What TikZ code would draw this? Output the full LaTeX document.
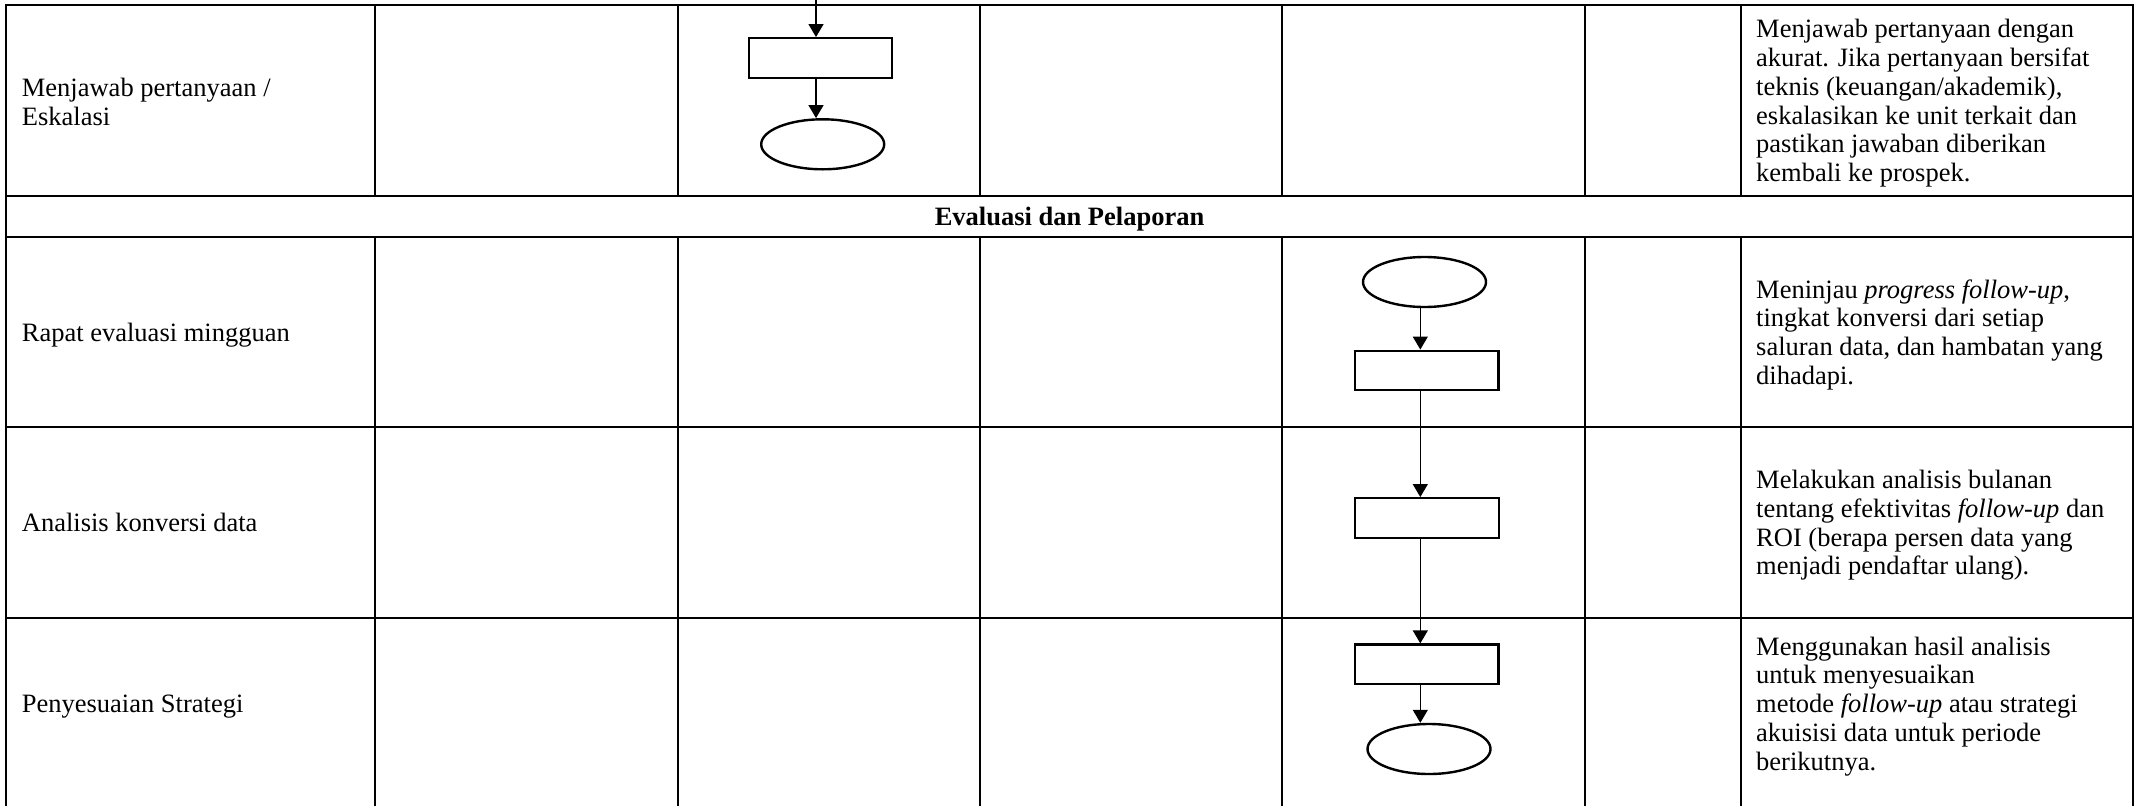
\documentclass[tikz,border=0pt]{standalone}
\usepackage{fontspec}
\setmainfont{Liberation Serif}
\usetikzlibrary{arrows.meta,shapes.geometric}
\newcommand{\cellfont}{\fontsize{26.5}{28.7}\selectfont}
\newcommand{\tstrut}{\rule{0pt}{23.6pt}}
\begin{document}
\begin{tikzpicture}[x=1pt,y=-1pt,
  gridline/.style={line width=2pt},
  proc/.style={draw, line width=2.4pt, minimum width=143.5pt, minimum height=39.5pt, inner sep=0pt},
  term/.style={draw, ellipse, line width=2.4pt, minimum width=123pt, minimum height=50pt, inner sep=0pt},
  arr/.style={line width=1.3pt, -{Triangle[length=13pt,width=15pt]}},
  txt/.style={anchor=north west, inner sep=0pt, align=left, font=\cellfont},
  head/.style={anchor=base, inner sep=0pt, font=\cellfont\bfseries}]
\useasboundingbox (0,0) rectangle (2138,806);
\fill[white] (0,0) rectangle (2138,806);
% table grid
\draw[gridline] (6,806) -- (6,5) -- (2133,5) -- (2133,806);
\foreach \yy in {196,237,427,618} \draw[gridline] (6,\yy) -- (2133,\yy);
\foreach \xx in {375,678,980,1282,1585,1741} {
  \draw[gridline] (\xx,5) -- (\xx,196);
  \draw[gridline] (\xx,237) -- (\xx,806);
}
% header
\node[head] (hdr) at (1069.5,225.5) {Evaluasi dan Pelaporan};
% left column
\node[txt] (l1) at (21.7,96.7-23.6) {\tstrut Menjawab pertanyaan /\\Eskalasi};
\node[txt] (l2) at (21.7,341-23.6) {\tstrut Rapat evaluasi mingguan};
\node[txt] (l3) at (21.7,531.5-23.6) {\tstrut Analisis konversi data};
\node[txt] (l4) at (21.7,712-23.6) {\tstrut Penyesuaian Strategi};
% right column
\node[txt] (d1) at (1756,37.7-23.6) {\tstrut Menjawab pertanyaan dengan\\akurat. Jika pertanyaan bersifat\\teknis (keuangan/akademik),\\eskalasikan ke unit terkait dan\\pastikan jawaban diberikan\\kembali ke prospek.};
\node[txt] (d2) at (1756,298-23.6) {\tstrut Meninjau \textit{progress follow-up},\\tingkat konversi dari setiap\\saluran data, dan hambatan yang\\dihadapi.};
\node[txt] (d3) at (1756,488.4-23.6) {\tstrut Melakukan analisis bulanan\\tentang efektivitas \textit{follow-up} dan\\ROI (berapa persen data yang\\menjadi pendaftar ulang).};
\node[txt] (d4) at (1756,655-23.6) {\tstrut Menggunakan hasil analisis\\untuk menyesuaikan\\metode \textit{follow-up} atau strategi\\akuisisi data untuk periode\\berikutnya.};
% flow shapes row 1
\coordinate (t1) at (816,0);
\node[proc] (r1) at (820.5,58) {};
\node[term] (e1) at (822.7,144.3) {};
\draw[arr] (t1) -- (r1.north -| t1);
\draw[arr] (r1.south -| t1) -- (e1.north -| t1);
% flow shapes rows 2-4
\coordinate (cb) at (1420.3,0);
\node[term] (e2) at (1424.5,282) {};
\node[proc] (r2) at (1426.7,370.5) {};
\node[proc] (r3) at (1427,518) {};
\node[proc] (r4) at (1426.7,664.3) {};
\node[term] (e4) at (1429,749) {};
\draw[arr] (e2.south -| cb) -- (r2.north -| cb);
\draw[arr] (r2.south -| cb) -- (r3.north -| cb);
\draw[arr] (r3.south -| cb) -- (r4.north -| cb);
\draw[arr] (r4.south -| cb) -- (e4.north -| cb);
\end{tikzpicture}
\end{document}
